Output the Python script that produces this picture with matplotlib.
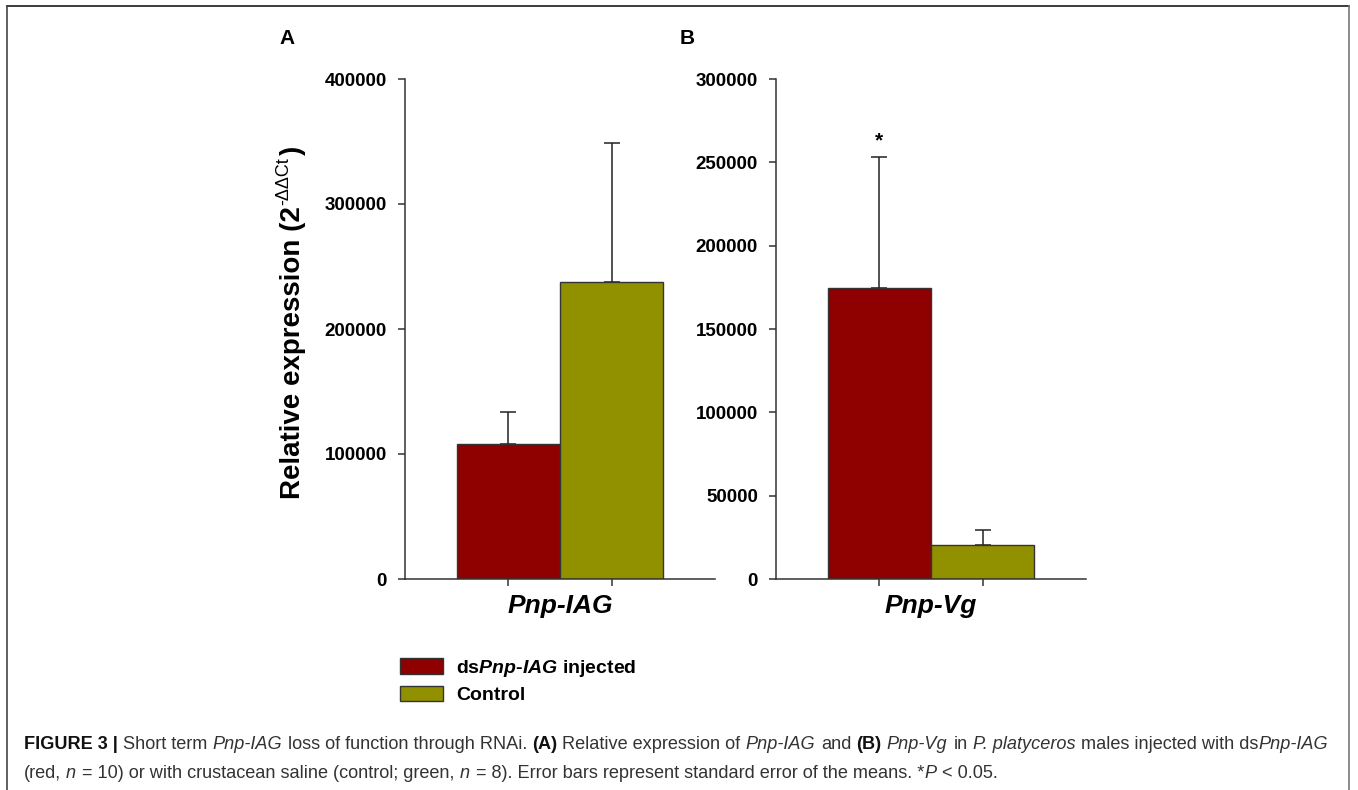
import matplotlib
matplotlib.use('Agg')
import matplotlib.pyplot as plt
import numpy as np
from matplotlib import font_manager
from matplotlib.font_manager import FontProperties
from matplotlib.lines import Line2D
from matplotlib.patches import Patch

# data
groups = ['dsPnp-IAG injected', 'Control']
legend_labels = [r'ds$\mathit{Pnp}$-$\mathit{IAG}$ injected', 'Control']
bar_colors = ['#8f0000', '#919100']

panel_a_gene = 'Pnp-IAG'
panel_a_means = [108000, 237600]
panel_a_sem = [25600, 111400]
panel_a_ticks = [0, 100000, 200000, 300000, 400000]
panel_a_signif = ['', '']

panel_b_gene = 'Pnp-Vg'
panel_b_means = [174600, 20600]
panel_b_sem = [78600, 9000]
panel_b_ticks = [0, 50000, 100000, 150000, 200000, 250000, 300000]
panel_b_signif = ['*', '']

ylabel_parts = ['Relative expression (2', '-\u0394\u0394Ct', ')']

caption_line1 = [
    ('FIGURE 3 | ', 'bold'), ('Short term ', 'normal'), ('Pnp-IAG', 'italic'),
    (' loss of function through RNAi. ', 'normal'), ('(A)', 'bold'),
    (' Relative expression of ', 'normal'), ('Pnp-IAG', 'italic'),
    (' and ', 'normal'), ('(B)', 'bold'), (' ', 'normal'), ('Pnp-Vg', 'italic'),
    (' in ', 'normal'), ('P. platyceros', 'italic'),
    (' males injected with ds', 'normal'), ('Pnp-IAG', 'italic'),
]
caption_line2 = [
    ('(red, ', 'normal'), ('n', 'italic'),
    (' = 10) or with crustacean saline (control; green, ', 'normal'),
    ('n', 'italic'),
    (' = 8). Error bars represent standard error of the means. *', 'normal'),
    ('P', 'italic'), (' < 0.05.', 'normal'),
]

plt.rcParams['font.family'] = 'Liberation Sans'
plt.rcParams['mathtext.fontset'] = 'custom'
plt.rcParams['mathtext.rm'] = 'Liberation Sans'
plt.rcParams['mathtext.it'] = 'Liberation Sans:italic:bold'
plt.rcParams['mathtext.bf'] = 'Liberation Sans:bold'

W, H = 1358, 790
fig = plt.figure(figsize=(W / 100, H / 100), dpi=100)
renderer = fig.canvas.get_renderer()


def fx(x):
    return x / W


def fy(y):
    return 1 - y / H


def text_width(s, fp):
    w, _, _ = renderer.get_text_width_height_descent(s, fp, ismath=False)
    return w


def draw_panel(left_px, gene, means, sem, ticks, signif):
    ax = fig.add_axes([fx(left_px), fy(579), fx(310), 500 / H])
    x = np.arange(len(means))
    ax.bar(x, means, width=1.0, color=bar_colors, edgecolor='#333333',
           linewidth=1.0, zorder=2)
    ax.errorbar(x, means, yerr=[np.zeros(len(sem)), sem], fmt='none',
                ecolor='#222222', elinewidth=1.1, capsize=5.5, capthick=1.1,
                zorder=1)
    for xi, m, s, mark in zip(x, means, sem, signif):
        if mark:
            ax.annotate(mark, xy=(xi, m + s), xytext=(0, 5),
                        textcoords='offset points', ha='center', va='bottom',
                        fontsize=15, fontweight='bold')
    ax.set_xlim(-1, 2)
    ax.set_ylim(0, ticks[-1])
    ax.set_xticks(x)
    ax.set_xticklabels([''] * len(x))
    ax.set_yticks(ticks)
    ax.set_yticklabels([str(t) for t in ticks], fontweight='bold')
    for side in ['top', 'right']:
        ax.spines[side].set_visible(False)
    for side in ['left', 'bottom']:
        ax.spines[side].set_color('#333333')
        ax.spines[side].set_linewidth(1.1)
    ax.tick_params(direction='out', length=5, width=1.1, color='#333333',
                   pad=8, labelsize=13.5)
    ax.text(0.5, -0.03, gene, transform=ax.transAxes, ha='center', va='top',
            fontsize=19, fontweight='bold', fontstyle='italic')
    return ax


ax_a = draw_panel(405, panel_a_gene, panel_a_means, panel_a_sem,
                  panel_a_ticks, panel_a_signif)
ax_b = draw_panel(776, panel_b_gene, panel_b_means, panel_b_sem,
                  panel_b_ticks, panel_b_signif)

fig.text(fx(279), fy(44), 'A', fontsize=15, fontweight='bold', va='baseline')
fig.text(fx(680), fy(44), 'B', fontsize=15, fontweight='bold', va='baseline')

# rotated y label with a hand-placed superscript
main_fp = FontProperties(family='Liberation Sans', weight='bold', size=20)
sup_fp = FontProperties(family='Liberation Sans', size=13)
widths = [text_width(ylabel_parts[0], main_fp), text_width(ylabel_parts[1], sup_fp),
          text_width(ylabel_parts[2], main_fp)]
y_start = 322 + sum(widths) / 2 + 2
baseline_x = 300
offsets = [0, 1.5, 3]
for part, fp, dx, y_off in zip(ylabel_parts, [main_fp, sup_fp, main_fp],
                              [0, -12, 0],
                              [0, widths[0] + 1.5, widths[0] + widths[1] + 3]):
    fig.text(fx(baseline_x + dx), fy(y_start - y_off), part, fontproperties=fp,
             rotation=90, rotation_mode='anchor', ha='left', va='baseline',
             color='black')

handles = [Patch(facecolor=c, edgecolor='#333333', linewidth=1.0, label=l)
           for c, l in zip(bar_colors, legend_labels)]
fig.legend(handles=handles, loc='upper left', bbox_to_anchor=(fx(400), fy(658)),
           frameon=False, borderpad=0, borderaxespad=0, handlelength=2.2,
           handleheight=0.87, handletextpad=0.67, labelspacing=0.34,
           prop=FontProperties(family='Liberation Sans', weight='bold', size=14))

# outer frame
frame = [((7, 1349), (6, 6), '#1a1a1a'), ((7, 7), (6, 790), '#444444'),
         ((1349, 1349), (6, 790), '#777777')]
for xs, ys, col in frame:
    fig.add_artist(Line2D([fx(xs[0]), fx(xs[1])], [fy(ys[0]), fy(ys[1])],
                          transform=fig.transFigure, color=col, linewidth=1.2))

# caption, drawn piece by piece
available = {f.name for f in font_manager.fontManager.ttflist}
cap_family = 'Liberation Sans Narrow' if 'Liberation Sans Narrow' in available else 'Liberation Sans'


def cap_props(style, size):
    if style == 'bold':
        return FontProperties(family=cap_family, weight='bold', size=size)
    if style == 'italic':
        return FontProperties(family=cap_family, style='italic', size=size)
    return FontProperties(family=cap_family, size=size)


def space_width(fp):
    return text_width('x x', fp) - text_width('xx', fp)


def split_spaces(s):
    core = s.strip(' ')
    if not core:
        return len(s), '', 0
    lead = len(s) - len(s.lstrip(' '))
    trail = len(s) - len(s.rstrip(' '))
    return lead, core, trail


def line_width(segments, size):
    total = 0
    for s, style in segments:
        fp = cap_props(style, size)
        lead, core, trail = split_spaces(s)
        total += (lead + trail) * space_width(fp)
        if core:
            total += text_width(core, fp)
            if style == 'italic':
                total += 0.08 * size
    return total


def draw_line(segments, x0, y0, size):
    x = x0
    for s, style in segments:
        fp = cap_props(style, size)
        lead, core, trail = split_spaces(s)
        x += lead * space_width(fp)
        if core:
            col = '#111111' if style == 'bold' else '#333333'
            fig.text(fx(x), fy(y0), core, fontproperties=fp, color=col,
                     ha='left', va='baseline')
            x += text_width(core, fp)
            if style == 'italic':
                # allow for the slant overhang
                x += 0.08 * size
        x += trail * space_width(fp)


cap_size = 10.0
cap_size = cap_size * 1310 / line_width(caption_line1, cap_size)
draw_line(caption_line1, 24, 749, cap_size)
draw_line(caption_line2, 24, 778, cap_size)

fig.savefig('out.png', dpi=100)
